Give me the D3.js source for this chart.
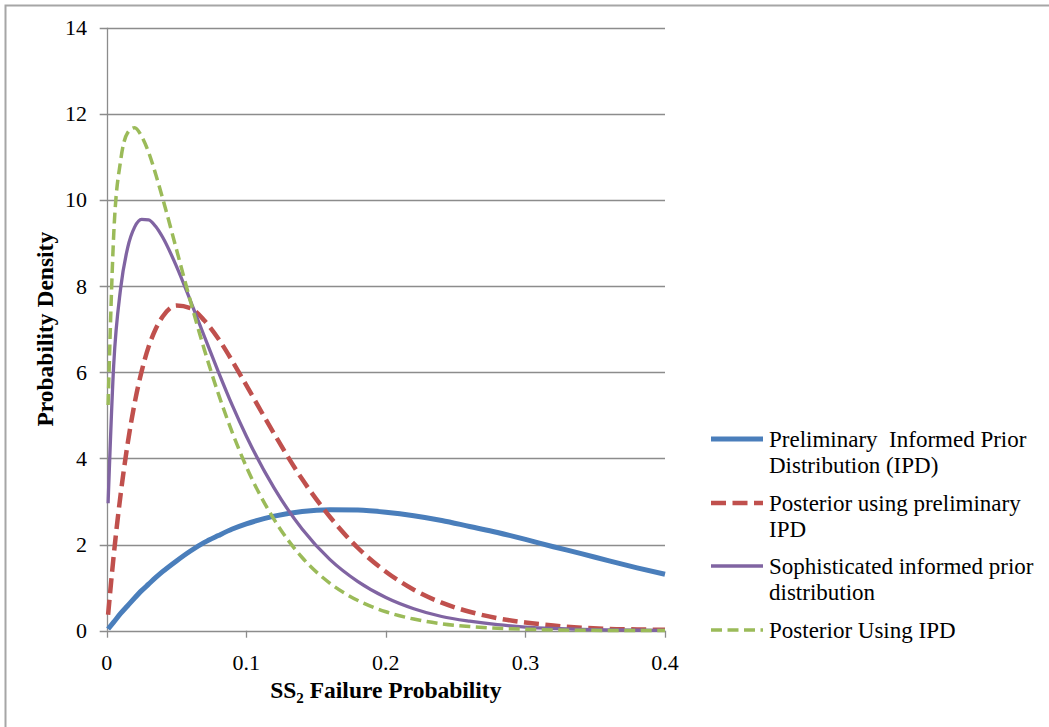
<!DOCTYPE html>
<html>
<head>
<meta charset="utf-8">
<script src="https://cdn.jsdelivr.net/npm/d3@7"></script>
<style>
  html, body { margin: 0; padding: 0; background: #ffffff; }
  svg text { font-family: "Liberation Serif", "Times New Roman", serif; fill: #000; }
</style>
</head>
<body>
<svg id="chart" width="1049" height="727"></svg>
<script>
// Failure probability grid shared by all curves
const failureProb = [0.001, 0.005, 0.01, 0.015, 0.02, 0.025, 0.03, 0.035, 0.04, 0.05,
  0.06, 0.07, 0.08, 0.09, 0.10, 0.12, 0.14, 0.16, 0.18, 0.20,
  0.22, 0.24, 0.26, 0.28, 0.30, 0.32, 0.34, 0.36, 0.38, 0.40];

// Probability density of each distribution at failureProb
const preliminaryIPD = [0.04, 0.20, 0.40, 0.58, 0.76, 0.93, 1.08, 1.23, 1.37, 1.62,
  1.85, 2.05, 2.21, 2.36, 2.48, 2.66, 2.77, 2.81, 2.80, 2.75,
  2.67, 2.56, 2.42, 2.28, 2.12, 1.95, 1.79, 1.62, 1.46, 1.31];
const posteriorPreliminary = [0.37, 1.74, 3.17, 4.34, 5.28, 6.02, 6.59, 7.00, 7.29, 7.55,
  7.49, 7.20, 6.78, 6.26, 5.70, 4.57, 3.52, 2.64, 1.92, 1.37,
  0.95, 0.65, 0.44, 0.29, 0.19, 0.12, 0.07, 0.04, 0.03, 0.02];
const sophisticatedIPD = [2.96, 6.16, 7.95, 8.89, 9.37, 9.55, 9.54, 9.39, 9.14, 8.46,
  7.66, 6.83, 6.01, 5.23, 4.52, 3.31, 2.36, 1.65, 1.14, 0.77,
  0.51, 0.33, 0.22, 0.14, 0.085, 0.052, 0.031, 0.019, 0.011, 0.006];
const posteriorIPD = [5.24, 9.18, 10.92, 11.56, 11.68, 11.48, 11.11, 10.61, 10.05, 8.85,
  7.65, 6.52, 5.50, 4.60, 3.81, 2.58, 1.70, 1.10, 0.70, 0.44,
  0.27, 0.16, 0.097, 0.057, 0.033, 0.018, 0.010, 0.006, 0.003, 0.002];

const seriesNames = [
  ["Preliminary  Informed Prior", "Distribution (IPD)"],
  ["Posterior using preliminary", "IPD"],
  ["Sophisticated informed prior", "distribution"],
  ["Posterior Using IPD"]
];
const xTicks = [0, 0.1, 0.2, 0.3, 0.4];
const yTicks = [0, 2, 4, 6, 8, 10, 12, 14];

const series = [
  { name: seriesNames[0], values: preliminaryIPD, color: "#4a7ebb", width: 5, dash: null },
  { name: seriesNames[1], values: posteriorPreliminary, color: "#c0504d", width: 4.5, dash: "15,6.5" },
  { name: seriesNames[2], values: sophisticatedIPD, color: "#8064a2", width: 3.3, dash: null },
  { name: seriesNames[3], values: posteriorIPD, color: "#9bbb59", width: 3.5, dash: "11,5.5" }
];

const svg = d3.select("#chart");

// outer chart border (top and left edges visible)
svg.append("rect")
  .attr("x", 5.5).attr("y", 5.5)
  .attr("width", 1100).attr("height", 800)
  .attr("fill", "none").attr("stroke", "#a6a6a6").attr("stroke-width", 2);

const x = d3.scaleLinear().domain([0, 0.4]).range([106.7, 665]);
const y = d3.scaleLinear().domain([0, 14]).range([630.7, 27.7]);

// horizontal gridlines
svg.append("g")
  .selectAll("line")
  .data(yTicks)
  .join("line")
  .attr("x1", x(0) - 7).attr("x2", x(0.4))
  .attr("y1", d => Math.round(y(d)) + 0.5).attr("y2", d => Math.round(y(d)) + 0.5)
  .attr("stroke", "#8c8c8c").attr("stroke-width", 1.3);

// y axis line
svg.append("line")
  .attr("x1", Math.round(x(0)) + 0.5).attr("x2", Math.round(x(0)) + 0.5)
  .attr("y1", y(14)).attr("y2", y(0))
  .attr("stroke", "#8c8c8c").attr("stroke-width", 1.3);

// x ticks
svg.append("g")
  .selectAll("line")
  .data(xTicks)
  .join("line")
  .attr("x1", d => Math.round(x(d)) + 0.5).attr("x2", d => Math.round(x(d)) + 0.5)
  .attr("y1", y(0)).attr("y2", y(0) + 7)
  .attr("stroke", "#8c8c8c").attr("stroke-width", 1.3);

// tick labels
svg.append("g")
  .selectAll("text")
  .data(yTicks)
  .join("text")
  .attr("x", 87).attr("y", d => y(d) + 7.5)
  .attr("text-anchor", "end")
  .attr("font-size", 22)
  .text(d => d);

svg.append("g")
  .selectAll("text")
  .data(xTicks)
  .join("text")
  .attr("x", d => x(d)).attr("y", 670)
  .attr("text-anchor", "middle")
  .attr("font-size", 22)
  .text(d => d === 0 ? "0" : d3.format(".1f")(d));

// axis titles
const xTitle = svg.append("text")
  .attr("x", (x(0) + x(0.4)) / 2).attr("y", 698)
  .attr("text-anchor", "middle")
  .attr("font-size", 23.5).attr("font-weight", "bold");
xTitle.append("tspan").text("SS");
xTitle.append("tspan").attr("font-size", 15).attr("dy", 5).text("2");
xTitle.append("tspan").attr("dy", -5).text(" Failure Probability");

svg.append("text")
  .attr("transform", `translate(53, ${(y(0) + y(14)) / 2}) rotate(-90)`)
  .attr("text-anchor", "middle")
  .attr("font-size", 23.5).attr("font-weight", "bold")
  .text("Probability Density");

// curves
const line = d3.line()
  .x((d, i) => x(failureProb[i]))
  .y(d => y(d))
  .curve(d3.curveMonotoneX);

svg.append("g")
  .selectAll("path")
  .data(series)
  .join("path")
  .attr("d", d => line(d.values))
  .attr("fill", "none")
  .attr("stroke", d => d.color)
  .attr("stroke-width", d => d.width)
  .attr("stroke-dasharray", d => d.dash)
  .attr("stroke-linejoin", "round");

// legend
const legendRows = [439, 503, 566, 630];
const legend = svg.append("g");
series.forEach((s, i) => {
  const cy = legendRows[i];
  legend.append("line")
    .attr("x1", 711).attr("x2", 763)
    .attr("y1", cy).attr("y2", cy)
    .attr("stroke", s.color)
    .attr("stroke-width", s.width)
    .attr("stroke-dasharray", s.dash);
  s.name.forEach((t, j) => {
    legend.append("text")
      .attr("x", 769).attr("y", cy + 8 + j * 26)
      .attr("font-size", 23)
      .style("white-space", "pre")
      .text(t);
  });
});
</script>
</body>
</html>
